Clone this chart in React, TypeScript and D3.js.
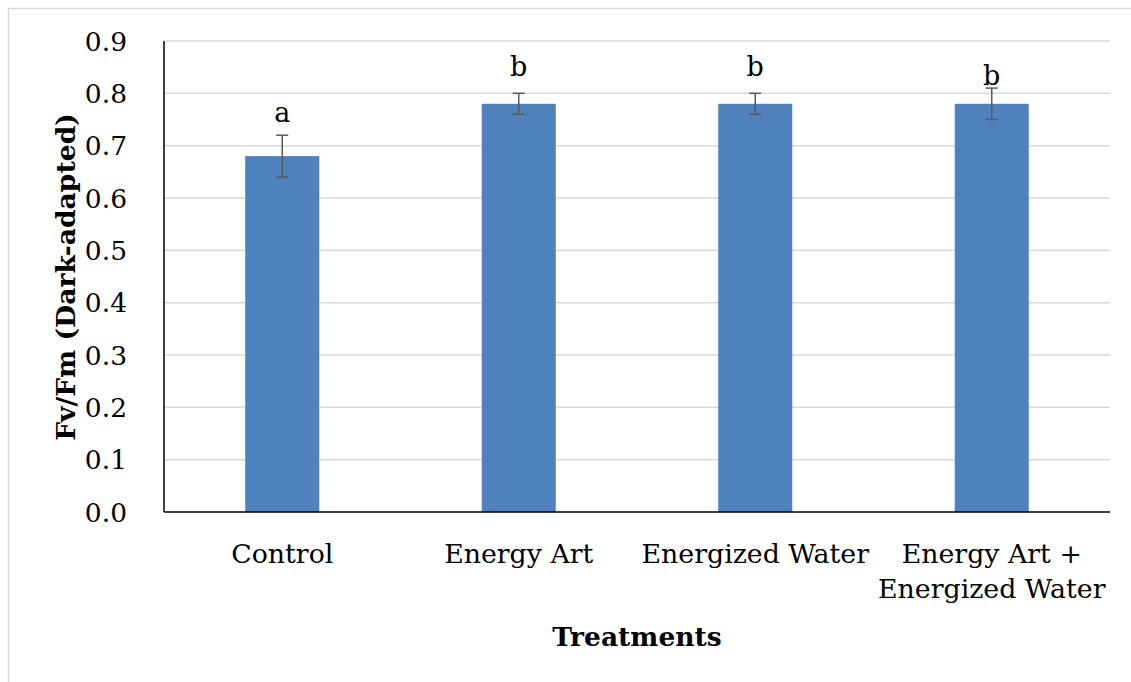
import React from "react";
import * as d3 from "d3";

const categories = ["Control", "Energy Art", "Energized Water", "Energy Art + Energized Water"];
const categoryLines = [["Control"], ["Energy Art"], ["Energized Water"], ["Energy Art +", "Energized Water"]];
const means = [0.68, 0.78, 0.78, 0.78];
const errors = [0.04, 0.02, 0.02, 0.03];
const letters = ["a", "b", "b", "b"];
const letterLevels = [0.745, 0.833, 0.833, 0.815];
const yTicks = [0, 0.1, 0.2, 0.3, 0.4, 0.5, 0.6, 0.7, 0.8, 0.9];

const W = 1131;
const H = 682;
const left = 164;
const right = 1110;
const top = 41;
const bottom = 512;
const FONT = "'DejaVu Serif', serif";

export default function App() {
  const x = d3.scaleBand<string>().domain(categories).range([left, right]).paddingInner(0.687).paddingOuter(0.3435);
  const y = d3.scaleLinear().domain([0, 0.9]).range([bottom, top]);
  return (
    <svg width={W} height={H} style={{ position: "absolute", left: 0, top: 0 }} fontFamily={FONT}>
      <rect x={0} y={0} width={W} height={H} fill="#fff" />
      <line x1={8.5} x2={W} y1={8.5} y2={8.5} stroke="#d9d9d9" strokeWidth={1.5} />
      <line x1={8.5} x2={8.5} y1={8.5} y2={H} stroke="#d9d9d9" strokeWidth={1.5} />
      {yTicks.slice(1).map((t) => (
        <line key={t} x1={left} x2={right} y1={y(t)} y2={y(t)} stroke="#d9d9d9" strokeWidth={1.5} />
      ))}
      {categories.map((c, i) => {
        const cx = x(c)! + x.bandwidth() / 2;
        return (
          <g key={c}>
            <rect x={x(c)} y={y(means[i])} width={x.bandwidth()} height={y(0) - y(means[i])} fill="#4f81bd" />
            <line x1={cx} x2={cx} y1={y(means[i] - errors[i])} y2={y(means[i] + errors[i])} stroke="#595959" strokeWidth={1.5} />
            <line x1={cx - 6} x2={cx + 6} y1={y(means[i] - errors[i])} y2={y(means[i] - errors[i])} stroke="#595959" strokeWidth={1.5} />
            <line x1={cx - 6} x2={cx + 6} y1={y(means[i] + errors[i])} y2={y(means[i] + errors[i])} stroke="#595959" strokeWidth={1.5} />
            <text x={cx} y={y(letterLevels[i])} textAnchor="middle" fontSize={27} fill="#000">{letters[i]}</text>
            {categoryLines[i].map((ln, j) => (
              <text key={j} x={cx} y={563 + j * 35} textAnchor="middle" fontSize={26.8} fill="#000">{ln}</text>
            ))}
          </g>
        );
      })}
      <line x1={left} x2={left} y1={top} y2={bottom} stroke="#000" strokeWidth={1.5} />
      <line x1={left} x2={right} y1={bottom} y2={bottom} stroke="#000" strokeWidth={1.5} />
      {yTicks.map((t) => (
        <text key={t} x={127} y={y(t) + 9.5} textAnchor="end" fontSize={26.5} fill="#000">{t.toFixed(1)}</text>
      ))}
      <text x={637} y={646} textAnchor="middle" fontSize={26.5} fontWeight="bold" fill="#000">Treatments</text>
      <text transform={`translate(75,277) rotate(-90)`} textAnchor="middle" fontSize={26.6} fontWeight="bold" fill="#000">Fv/Fm (Dark-adapted)</text>
    </svg>
  );
}
